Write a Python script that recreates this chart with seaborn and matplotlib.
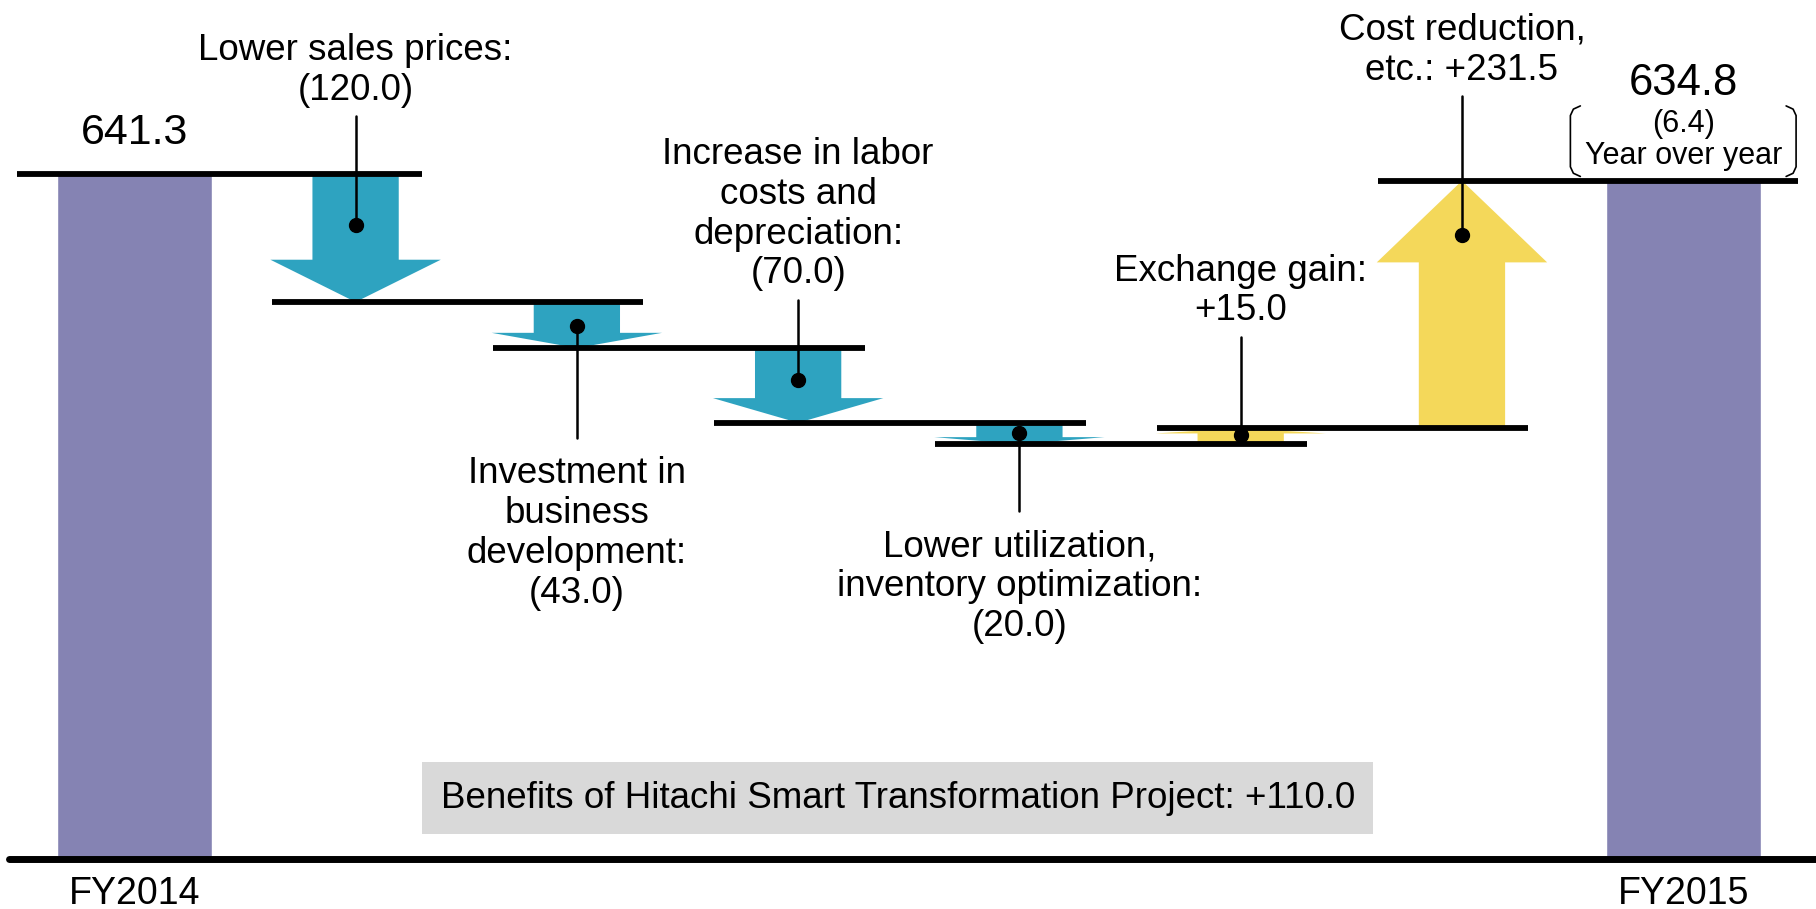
import numpy as np
import pandas as pd
import seaborn as sns
import matplotlib.pyplot as plt

# values (billion yen)
items = ["FY2014", "Lower sales prices", "Investment in business development",
         "Labor costs and depreciation", "Lower utilization", "Exchange gain",
         "Cost reduction", "FY2015"]
totals = [641.3, None, None, None, None, None, None, 634.8]
changes = [-120.0, -43.0, -70.0, -20.0, 15.0, 231.5]
change_labels = [
    "Lower sales prices:\n(120.0)",
    "Investment in\nbusiness\ndevelopment:\n(43.0)",
    "Increase in labor\ncosts and\ndepreciation:\n(70.0)",
    "Lower utilization,\ninventory optimization:\n(20.0)",
    "Exchange gain:\n+15.0",
    "Cost reduction,\netc.: +231.5",
]
yoy_text = "(6.4)\nYear over year"
project_text = "Benefits of Hitachi Smart Transformation Project: +110.0"

# layout of the call-outs
label_side = ["above", "below", "above", "below", "above", "above"]
dot_frac = [0.40, 0.52, 0.43, 0.48, 0.55, 0.78]
leader_len = [102, 105, 75, 73, 92, 130]

PURPLE = "#8583b3"
TEAL = "#2ea3c0"
YELLOW = "#f4d85a"
GREY = "#d9d9d9"

sns.set_style("white")
plt.rcParams["font.family"] = ["Liberation Sans", "DejaVu Sans"]
plt.rcParams["text.color"] = "black"

fig = plt.figure(figsize=(18.16, 9.09), dpi=100)
ax = fig.add_axes([0, 0, 1, 1])

df = pd.DataFrame({"item": items, "value": totals})
sns.barplot(data=df, x="item", y="value", order=items, color=PURPLE,
            saturation=1, width=0.70, errorbar=None, ax=ax, zorder=1)

n = len(items)
levels = [totals[0]] + list(totals[0] + np.cumsum(changes))

# level lines joining each step
for i in range(n - 1):
    left = i - (0.53 if i == 0 else 0.38)
    right = (i + 1) + (0.52 if i + 1 == n - 1 else 0.30)
    ax.hlines(levels[i], left, right, color="black", lw=4.2, zorder=4)

# arrows for each change
for k, ch in enumerate(changes):
    x = k + 1
    start = levels[k]
    col = TEAL if ch < 0 else YELLOW
    ax.arrow(x, start, 0, ch, width=0.39, head_width=0.77,
             head_length=abs(ch) * 0.33, length_includes_head=True,
             color=col, lw=0, zorder=2)
    dot_y = start + dot_frac[k] * ch
    if label_side[k] == "above":
        end = dot_y + leader_len[k]
        ax.text(x, end + 8, change_labels[k], ha="center", va="bottom",
                fontsize=26.5, linespacing=1.18)
    else:
        end = dot_y - leader_len[k]
        ax.text(x, end - 17, change_labels[k], ha="center", va="top",
                fontsize=26.5, linespacing=1.18)
    ax.plot([x, x], [dot_y, end], color="black", lw=1.8, zorder=5)
    ax.plot(x, dot_y, "o", color="black", ms=10, zorder=6)

# totals
ax.text(0, totals[0] + 38, f"{totals[0]:.1f}", ha="center", va="center", fontsize=31)
ax.text(n - 1, totals[-1] + 91, f"{totals[-1]:.1f}", ha="center", va="center", fontsize=31.5)
ax.text(n - 1, totals[-1] + 38, yoy_text, ha="center", va="center",
        fontsize=22, linespacing=1.1)

# brackets around the year-over-year note
top, bot = totals[-1] + 70, totals[-1] + 4
for side in (-1, 1):
    bx = n - 1 + side * 0.51
    d = -side * 0.045
    ax.plot([bx + d, bx + d * 0.3, bx, bx, bx + d * 0.3, bx + d],
            [top, top - 3, top - 9, bot + 9, bot + 3, bot],
            color="black", lw=1.2, zorder=5)

ax.text(3.45, 57, project_text, ha="center", va="center", fontsize=26.5,
        bbox=dict(boxstyle="square,pad=0.5", fc=GREY, ec="none"))

ax.axhline(0, xmin=0.005, xmax=1, color="black", lw=5, zorder=4)
ax.text(0, -33, items[0], ha="center", va="center", fontsize=27)
ax.text(n - 1, -33, items[-1], ha="center", va="center", fontsize=27)

ax.set_xlim(-0.607, 7.60)
ax.set_ylim(-46.6, 803.9)
ax.axis("off")

fig.savefig("out.png", dpi=100)
